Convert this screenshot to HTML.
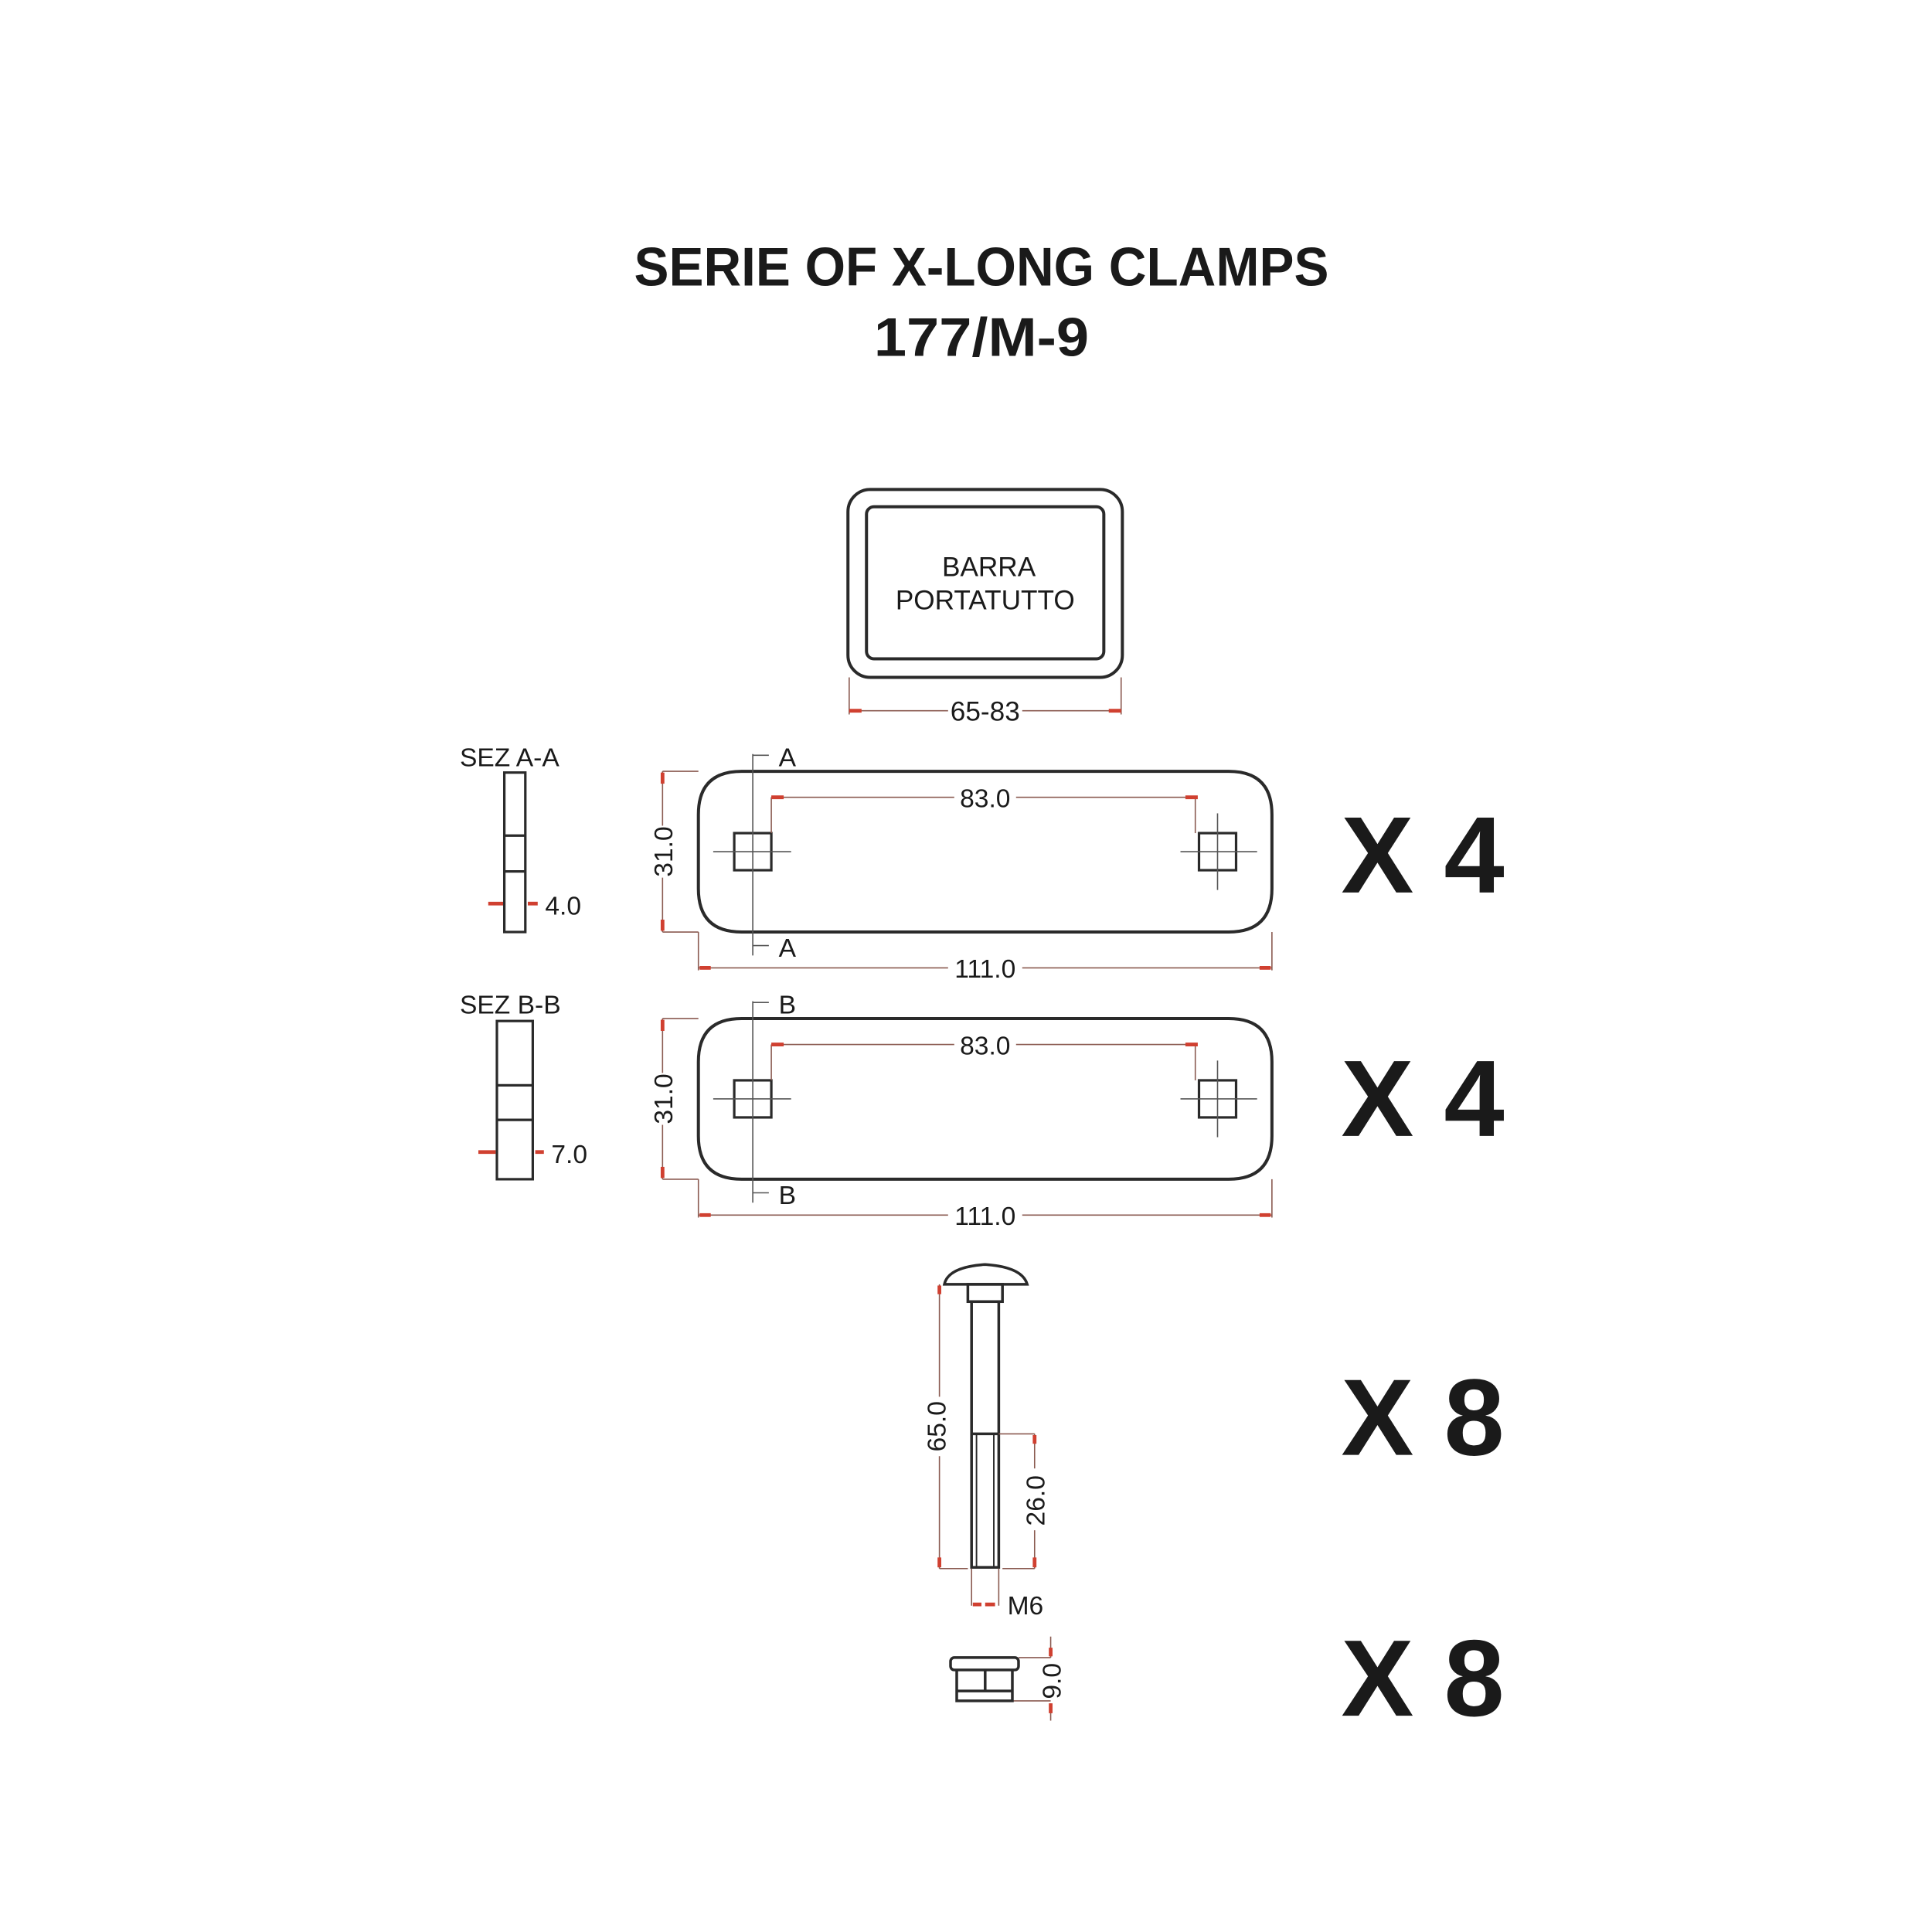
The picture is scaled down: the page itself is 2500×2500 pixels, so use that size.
<!DOCTYPE html>
<html><head><meta charset="utf-8"><style>
html,body{margin:0;padding:0;background:#fff;}
svg{display:block;}
text{font-family:"Liberation Sans",sans-serif;fill:#1a1a1a;}
</style></head><body>
<svg width="2500" height="2500" viewBox="0 0 1563 1563" xmlns="http://www.w3.org/2000/svg">
<rect width="1563" height="1563" fill="#fff"/>
<g transform="translate(-3,-2)">
<text x="797" y="233" font-size="44" font-weight="bold" text-anchor="middle" textLength="562" lengthAdjust="spacingAndGlyphs">SERIE OF X-LONG CLAMPS</text>
<text x="797" y="290" font-size="44" font-weight="bold" text-anchor="middle" textLength="174" lengthAdjust="spacingAndGlyphs">177/M-9</text>

<g fill="none" stroke="#2a2a2a" stroke-width="2.5">
<rect x="689" y="398" width="222" height="152" rx="18"/>
<rect x="704" y="412" width="192" height="123" rx="6"/>
</g>
<text x="803" y="468" font-size="22" text-anchor="middle">BARRA</text>
<text x="800" y="495" font-size="22" text-anchor="middle">PORTATUTTO</text>
<g stroke="#8a5a50" stroke-width="1"><line x1="690" y1="550" x2="690" y2="580"/><line x1="910" y1="550" x2="910" y2="580"/><line x1="690" y1="577" x2="770" y2="577"/><line x1="830" y1="577" x2="910" y2="577"/></g>
<g stroke="#d04030" stroke-width="3"><line x1="690" y1="577" x2="700" y2="577"/><line x1="900" y1="577" x2="910" y2="577"/></g>
<text x="800" y="585" font-size="22" text-anchor="middle">65-83</text>

<g id="plate">
<g fill="none" stroke="#2a2a2a" stroke-width="2.5">
<path d="M603 626 H997 Q1032 626 1032 661 V721 Q1032 756 997 756 H603 Q568 756 568 721 V661 Q568 626 603 626 Z"/>
<rect x="597" y="676" width="30" height="30" stroke-width="2"/>
<rect x="973" y="676" width="30" height="30" stroke-width="2"/>
</g>
<g stroke="#555" stroke-width="1">
<line x1="580" y1="691" x2="643" y2="691"/><line x1="958" y1="691" x2="1020" y2="691"/>
<line x1="988" y1="660" x2="988" y2="722"/>
<line x1="612" y1="612" x2="612" y2="775"/>
<line x1="612" y1="613" x2="625" y2="613"/><line x1="612" y1="767" x2="625" y2="767"/>
</g>
<g stroke="#8a5a50" stroke-width="1">
<line x1="627" y1="647" x2="775" y2="647"/><line x1="825" y1="647" x2="970" y2="647"/>
<line x1="627" y1="647" x2="627" y2="676"/><line x1="970" y1="647" x2="970" y2="676"/>
<line x1="539" y1="626" x2="539" y2="670"/><line x1="539" y1="712" x2="539" y2="756"/>
<line x1="539" y1="626" x2="568" y2="626"/><line x1="539" y1="756" x2="568" y2="756"/>
<line x1="568" y1="756" x2="568" y2="787"/><line x1="1032" y1="756" x2="1032" y2="787"/>
<line x1="568" y1="785" x2="770" y2="785"/><line x1="830" y1="785" x2="1032" y2="785"/>
</g>
<g stroke="#d04030" stroke-width="3">
<line x1="627" y1="647" x2="637" y2="647"/><line x1="962" y1="647" x2="972" y2="647"/>
<line x1="539" y1="627" x2="539" y2="636"/><line x1="539" y1="746" x2="539" y2="755"/>
<line x1="569" y1="785" x2="578" y2="785"/><line x1="1022" y1="785" x2="1031" y2="785"/>
</g>
<text x="800" y="655" font-size="21" text-anchor="middle">83.0</text>
<text x="800" y="793" font-size="21" text-anchor="middle">111.0</text>
<text transform="translate(547,691) rotate(-90)" font-size="21" text-anchor="middle">31.0</text>
</g>
<text x="633" y="622" font-size="21">A</text>
<text x="633" y="776" font-size="21">A</text>
<use href="#plate" y="200"/>
<text x="633" y="822" font-size="21">B</text>
<text x="633" y="976" font-size="21">B</text>

<text x="375" y="622" font-size="21">SEZ A-A</text>
<g fill="none" stroke="#2a2a2a" stroke-width="2">
<rect x="411" y="627" width="17" height="129"/><line x1="411" y1="678" x2="428" y2="678"/><line x1="411" y1="707" x2="428" y2="707"/>
</g>
<g stroke="#d04030" stroke-width="3"><line x1="398" y1="733" x2="410" y2="733"/><line x1="430" y1="733" x2="438" y2="733"/></g>
<text x="444" y="742" font-size="21">4.0</text>

<text x="375" y="822" font-size="21">SEZ B-B</text>
<g fill="none" stroke="#2a2a2a" stroke-width="2">
<rect x="405" y="828" width="29" height="128"/><line x1="405" y1="880" x2="434" y2="880"/><line x1="405" y1="908" x2="434" y2="908"/>
</g>
<g stroke="#d04030" stroke-width="3"><line x1="390" y1="934" x2="404" y2="934"/><line x1="436" y1="934" x2="443" y2="934"/></g>
<text x="449" y="943" font-size="21">7.0</text>

<g font-size="88" font-weight="bold">
<text x="1088" y="724">X 4</text>
<text x="1088" y="921">X 4</text>
<text x="1088" y="1179">X 8</text>
<text x="1088" y="1390">X 8</text>
</g>

<g fill="none" stroke="#2a2a2a" stroke-width="2.2">
<path d="M767 1041 Q770 1027 800 1025 Q830 1027 834 1041 Z"/>
<rect x="786" y="1041" width="28" height="14"/>
<rect x="789" y="1055" width="22" height="215"/>
<line x1="789" y1="1162" x2="811" y2="1162"/>
<line x1="793" y1="1162" x2="793" y2="1269" stroke-width="1.2"/><line x1="807" y1="1162" x2="807" y2="1269" stroke-width="1.2"/>
</g>
<g stroke="#8a5a50" stroke-width="1">
<line x1="763" y1="1041" x2="763" y2="1132"/><line x1="763" y1="1180" x2="763" y2="1271"/>
<line x1="763" y1="1271" x2="786" y2="1271"/><line x1="814" y1="1271" x2="840" y2="1271"/>
<line x1="811" y1="1162" x2="840" y2="1162"/>
<line x1="840" y1="1162" x2="840" y2="1190"/><line x1="840" y1="1240" x2="840" y2="1271"/>
<line x1="789" y1="1271" x2="789" y2="1301"/><line x1="811" y1="1271" x2="811" y2="1301"/>
<line x1="853" y1="1326" x2="853" y2="1343"/><line x1="853" y1="1380" x2="853" y2="1394"/>
<line x1="827" y1="1343" x2="853" y2="1343"/><line x1="822" y1="1378" x2="853" y2="1378"/>
</g>
<g stroke="#d04030" stroke-width="3">
<line x1="763" y1="1042" x2="763" y2="1049"/><line x1="763" y1="1262" x2="763" y2="1270"/>
<line x1="840" y1="1163" x2="840" y2="1170"/><line x1="840" y1="1262" x2="840" y2="1270"/>
<line x1="790" y1="1300" x2="797" y2="1300"/><line x1="800" y1="1300" x2="808" y2="1300"/>
<line x1="853" y1="1335" x2="853" y2="1342"/><line x1="853" y1="1380" x2="853" y2="1388"/>
</g>
<text transform="translate(768,1156) rotate(-90)" font-size="21" text-anchor="middle">65.0</text>
<text transform="translate(848,1216) rotate(-90)" font-size="21" text-anchor="middle">26.0</text>
<text x="818" y="1308" font-size="21">M6</text>
<g fill="none" stroke="#2a2a2a" stroke-width="2.2">
<rect x="772" y="1343" width="55" height="10" rx="3"/>
<path d="M777 1353 V1378 H822 V1353"/>
<line x1="777" y1="1370" x2="822" y2="1370"/><line x1="800" y1="1353" x2="800" y2="1370"/>
</g>
<text transform="translate(861,1362) rotate(-90)" font-size="21" text-anchor="middle">9.0</text>
</g>
</svg>
</body></html>
